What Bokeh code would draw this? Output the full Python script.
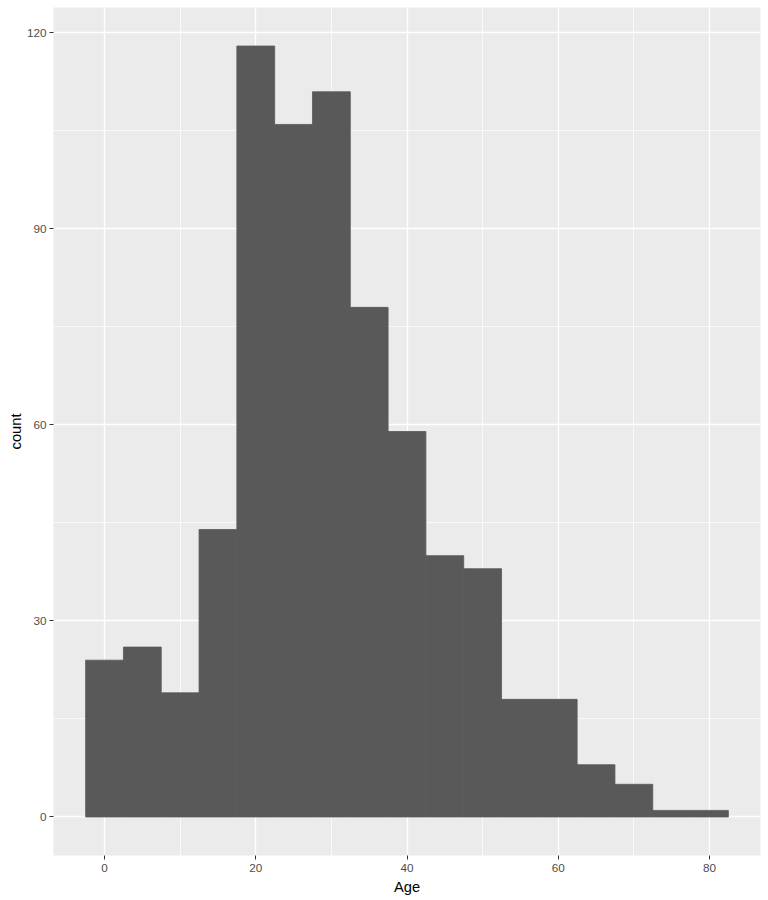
from bokeh.plotting import figure
from bokeh.models import Range1d, SingleIntervalTicker
from bokeh.embed import file_html
from bokeh.resources import INLINE

# Histogram of Age, binwidth 5 (bins centred on multiples of 5)
bin_centers = [0, 5, 10, 15, 20, 25, 30, 35, 40, 45, 50, 55, 60, 65, 70, 75, 80]
counts = [24, 26, 19, 44, 118, 106, 111, 78, 59, 40, 38, 18, 18, 8, 5, 1, 1]
binwidth = 5
x_ticks = [0, 20, 40, 60, 80]
y_ticks = [0, 30, 60, 90, 120]

left = [c - binwidth / 2 for c in bin_centers]
right = [c + binwidth / 2 for c in bin_centers]
xmin, xmax = min(left), max(right)
xpad = 0.05 * (xmax - xmin)
ymax = max(counts)
ypad = 0.05 * ymax

p = figure(frame_width=707, frame_height=848, output_backend="svg", toolbar_location=None,
           x_range=Range1d(xmin - xpad, xmax + xpad),
           y_range=Range1d(-ypad, ymax + ypad),
           min_border_left=53, min_border_right=8, min_border_top=7, min_border_bottom=44)

p.background_fill_color = "#EBEBEB"
p.border_fill_color = "white"
p.outline_line_color = None

p.quad(left=left, right=right, bottom=0, top=counts, fill_color="#595959",
       line_color="#595959", line_width=0.8)

p.xaxis.ticker = SingleIntervalTicker(interval=20, num_minor_ticks=2)
p.yaxis.ticker = SingleIntervalTicker(interval=30, num_minor_ticks=2)

for g in (p.xgrid[0], p.ygrid[0]):
    g.grid_line_color = "white"
    g.grid_line_width = 1.3
    g.minor_grid_line_color = "white"
    g.minor_grid_line_width = 0.7
    g.level = "underlay"

for ax in (p.xaxis[0], p.yaxis[0]):
    ax.axis_line_color = None
    ax.major_tick_line_color = "#333333"
    ax.major_tick_out = 4
    ax.major_tick_in = 0
    ax.minor_tick_line_color = None
    ax.major_label_text_font = "Liberation Sans"
    ax.major_label_text_font_size = "11.7px"
    ax.major_label_text_color = "#4D4D4D"
    ax.major_label_standoff = 3
    ax.axis_label_text_font = "Liberation Sans"
    ax.axis_label_text_font_size = "14.7px"
    ax.axis_label_text_font_style = "normal"
    ax.axis_label_text_color = "black"
    ax.axis_label_standoff = 4

p.xaxis[0].major_label_standoff = 4
p.yaxis[0].axis_label_standoff = 0

p.xaxis.axis_label = "Age"
p.yaxis.axis_label = "count"

open("out.html", "w").write(file_html(p, INLINE))
